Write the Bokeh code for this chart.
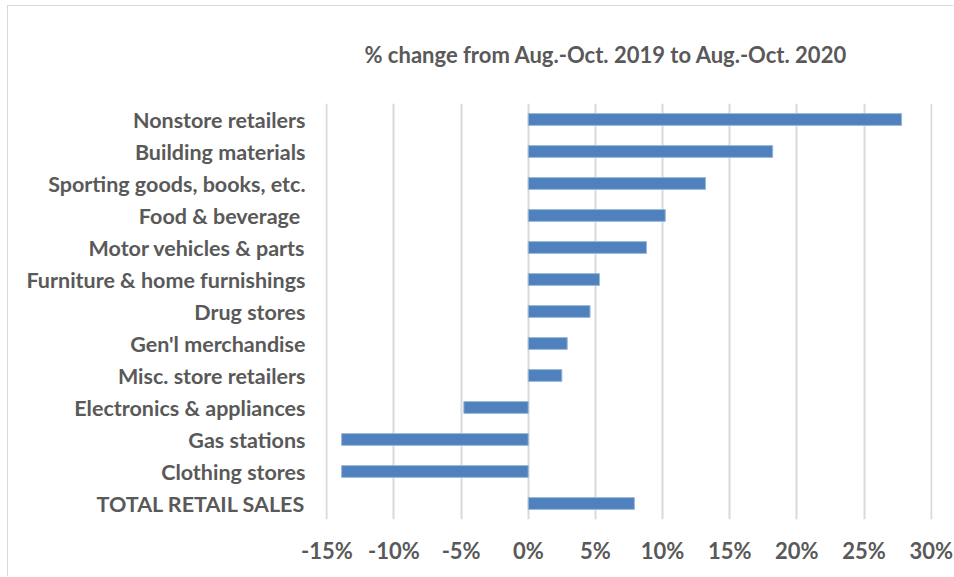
from bokeh.plotting import figure
from bokeh.models import FixedTicker, CustomJSTickFormatter, Title, ColumnDataSource
from bokeh.embed import file_html
from bokeh.resources import INLINE

categories = [
    "Nonstore retailers",
    "Building materials",
    "Sporting goods, books, etc.",
    "Food & beverage ",
    "Motor vehicles & parts",
    "Furniture & home furnishings",
    "Drug stores",
    "Gen'l merchandise",
    "Misc. store retailers",
    "Electronics & appliances",
    "Gas stations",
    "Clothing stores",
    "TOTAL RETAIL SALES",
]
pct_change = [27.8, 18.2, 13.2, 10.2, 8.8, 5.3, 4.6, 2.9, 2.5, -4.8, -13.9, -13.9, 7.9]
x_ticks = [-15, -10, -5, 0, 5, 10, 15, 20, 25, 30]
title_text = "% change from Aug.-Oct. 2019 to Aug.-Oct. 2020"

FONT = "Lato"
TEXT = "#595959"

src = ColumnDataSource(dict(cat=categories, val=pct_change))

p = figure(
    width=946, height=571,
    y_range=list(reversed(categories)),
    x_range=(-15.1, 30.1),
    output_backend="svg", toolbar_location=None,
    min_border_left=317, min_border_right=22, min_border_top=97, min_border_bottom=58,
)
p.styles = {"border-left": "1px solid #d9d9d9", "border-top": "1px solid #d9d9d9",
            "margin-left": "7px", "margin-top": "5px"}

p.hbar(y="cat", left=0, right="val", height=0.37, source=src,
       fill_color="#4f81bd", line_color="#9bb7da", line_width=1)

t = Title(text=title_text, align="left", offset=39, standoff=68, vertical_align="top",
          text_font=FONT, text_font_size="22px", text_color=TEXT, text_font_style="bold")
p.add_layout(t, "above")

p.xaxis.ticker = FixedTicker(ticks=x_ticks)
p.xaxis.formatter = CustomJSTickFormatter(code="return tick + '%';")
for ax in (p.xaxis, p.yaxis):
    ax.axis_line_color = None
    ax.major_tick_line_color = None
    ax.minor_tick_line_color = None
    ax.major_label_text_font = FONT
    ax.major_label_text_color = TEXT
    ax.major_label_text_font_style = "bold"
p.xaxis.major_label_text_font_size = "22px"
p.yaxis.major_label_text_font_size = "21.5px"
p.xaxis.major_label_standoff = 11
p.yaxis.major_label_standoff = 14

p.xgrid.grid_line_color = "#d9d9d9"
p.xgrid.grid_line_width = 2
p.ygrid.grid_line_color = None
p.outline_line_color = None
p.y_range.range_padding = 0

open("out.html", "w").write(file_html(p, INLINE))
